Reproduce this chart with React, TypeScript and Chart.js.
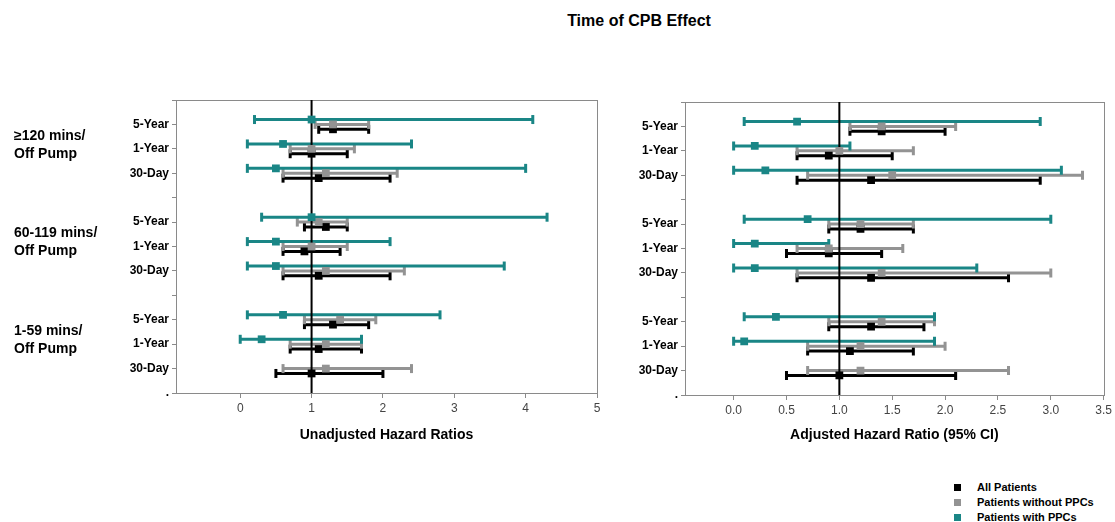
import React, { useEffect, useRef } from "react";
import { Chart, registerables } from "chart.js";

Chart.register(...registerables);

const FONT = "'Liberation Sans', Arial, Helvetica, sans-serif";

// y position (value) -> tick label, bottom (0) to top (12)
const ROW_LABELS = [".", "30-Day", "1-Year", "5-Year", "", "30-Day", "1-Year", "5-Year", "", "30-Day", "1-Year", "5-Year", ""];
const Y_MIN = 0;
const Y_MAX = 12;
// row order of data: >=120 (5Y,1Y,30D), 60-119 (5Y,1Y,30D), 1-59 (5Y,1Y,30D)
const ROW_Y = [11, 10, 9, 7, 6, 5, 3, 2, 1];
const GROUP_LINES = [["≥120 mins/", "Off Pump"], ["60-119 mins/", "Off Pump"], ["1-59 mins/", "Off Pump"]];
const GROUP_CENTER = [10, 6, 2];

const SERIES_NAMES = ["All Patients", "Patients without PPCs", "Patients with PPCs"];
const SERIES_COLORS = ["#000000", "#939393", "#1a8686"];
const SERIES_DY = [-0.2, 0, 0.2];

const REF_VALUE = 1;

// Unadjusted hazard ratios
const UNADJ_ALL_EST = [1.3, 1.0, 1.1, 1.2, 0.9, 1.1, 1.3, 1.1, 1.0];
const UNADJ_ALL_LO = [1.1, 0.7, 0.6, 0.9, 0.6, 0.6, 0.9, 0.7, 0.5];
const UNADJ_ALL_HI = [1.8, 1.5, 2.1, 1.5, 1.4, 2.1, 1.8, 1.7, 2.0];
const UNADJ_NO_EST = [1.3, 1.0, 1.2, 1.1, 1.0, 1.2, 1.4, 1.2, 1.2];
const UNADJ_NO_LO = [1.05, 0.7, 0.6, 0.8, 0.6, 0.6, 0.9, 0.7, 0.6];
const UNADJ_NO_HI = [1.8, 1.6, 2.2, 1.5, 1.5, 2.3, 1.9, 1.7, 2.4];
const UNADJ_PPC_EST = [1.0, 0.6, 0.5, 1.0, 0.5, 0.5, 0.6, 0.3, null];
const UNADJ_PPC_LO = [0.2, 0.1, 0.1, 0.3, 0.1, 0.1, 0.1, 0.0, null];
const UNADJ_PPC_HI = [4.1, 2.4, 4.0, 4.3, 2.1, 3.7, 2.8, 1.7, null];

// Adjusted hazard ratios
const ADJ_ALL_EST = [1.4, 0.9, 1.3, 1.2, 0.9, 1.3, 1.3, 1.1, 1.0];
const ADJ_ALL_LO = [1.1, 0.6, 0.6, 0.9, 0.5, 0.6, 0.9, 0.7, 0.5];
const ADJ_ALL_HI = [2.0, 1.5, 2.9, 1.7, 1.4, 2.6, 1.8, 1.7, 2.1];
const ADJ_NO_EST = [1.4, 1.0, 1.5, 1.2, 0.9, 1.4, 1.4, 1.2, 1.2];
const ADJ_NO_LO = [1.1, 0.6, 0.7, 0.9, 0.6, 0.6, 0.9, 0.7, 0.7];
const ADJ_NO_HI = [2.1, 1.7, 3.3, 1.7, 1.6, 3.0, 1.9, 2.0, 2.6];
const ADJ_PPC_EST = [0.6, 0.2, 0.3, 0.7, 0.2, 0.2, 0.4, 0.1, null];
const ADJ_PPC_LO = [0.1, 0.0, 0.0, 0.1, 0.0, 0.0, 0.1, 0.0, null];
const ADJ_PPC_HI = [2.9, 1.1, 3.1, 3.0, 0.9, 2.3, 1.9, 1.9, null];

const UNADJ_X_TICKS = [0, 1, 2, 3, 4, 5];
const ADJ_X_TICKS = [0, 0.5, 1, 1.5, 2, 2.5, 3, 3.5];

type Arr = (number | null)[];

function buildDatasets(series: { est: Arr; lo: Arr; hi: Arr }[]) {
  const ds: any[] = [];
  series.forEach((s, si) => {
    const color = SERIES_COLORS[si];
    const ci: any[] = [];
    const pts: any[] = [];
    ROW_Y.forEach((yv, i) => {
      const y = yv + SERIES_DY[si];
      if (s.lo[i] != null && s.hi[i] != null) {
        ci.push({ x: s.lo[i], y });
        ci.push({ x: s.hi[i], y });
        ci.push({ x: s.hi[i], y: null });
      }
      if (s.est[i] != null) pts.push({ x: s.est[i], y });
    });
    ds.push({
      label: SERIES_NAMES[si] + " CI",
      data: ci,
      showLine: true,
      spanGaps: false,
      borderColor: color,
      borderWidth: 3,
      pointStyle: "line",
      rotation: 90,
      pointRadius: 4.5,
      pointBorderWidth: 3,
      pointBorderColor: color,
      pointHoverRadius: 4.5,
      order: 20 - si,
    });
    ds.push({
      label: SERIES_NAMES[si],
      data: pts,
      showLine: false,
      pointStyle: "rect",
      pointRadius: 5.5,
      pointHoverRadius: 5.5,
      pointBorderWidth: 0,
      backgroundColor: color,
      pointBackgroundColor: color,
      borderColor: color,
      order: 5 - si,
    });
  });
  ds.push({
    label: "ref",
    data: [
      { x: REF_VALUE, y: Y_MIN },
      { x: REF_VALUE, y: Y_MAX },
    ],
    showLine: true,
    borderColor: "#000",
    borderWidth: 2,
    pointRadius: 0,
    pointHoverRadius: 0,
    order: 10,
  });
  return ds;
}

const framePlugin = {
  id: "frame",
  beforeDatasetsDraw(chart: any) {
    const { ctx, chartArea: a } = chart;
    ctx.save();
    ctx.strokeStyle = "#8a8a8a";
    ctx.lineWidth = 1;
    ctx.strokeRect(Math.round(a.left) + 0.5, Math.round(a.top) + 0.5, Math.round(a.right - a.left), Math.round(a.bottom - a.top));
    ctx.restore();
  },
};

const groupLabelPlugin = {
  id: "groupLabels",
  afterDraw(chart: any) {
    const { ctx } = chart;
    const ys = chart.scales.y;
    ctx.save();
    ctx.font = `bold 14px ${FONT}`;
    ctx.fillStyle = "#000";
    ctx.textAlign = "left";
    ctx.textBaseline = "middle";
    GROUP_LINES.forEach((lines, g) => {
      const c = ys.getPixelForValue(GROUP_CENTER[g]) - 4;
      ctx.fillText(lines[0], 14, c - 9);
      ctx.fillText(lines[1], 14, c + 9);
    });
    ctx.restore();
  },
};

function makeOptions(p: {
  xMin: number;
  xMax: number;
  xTicks: number[];
  fmt: (v: number) => string;
  title: string;
  yWidth: number;
  padTop: number;
  padRight: number;
  xHeight: number;
}) {
  return {
    animation: false,
    responsive: false,
    maintainAspectRatio: false,
    layout: { padding: { top: p.padTop, right: p.padRight, left: 0, bottom: 0 } },
    plugins: { legend: { display: false }, tooltip: { enabled: false }, title: { display: false } },
    events: [],
    scales: {
      x: {
        type: "linear",
        min: p.xMin,
        max: p.xMax,
        afterBuildTicks: (s: any) => {
          s.ticks = p.xTicks.map((v) => ({ value: v }));
        },
        afterFit: (s: any) => {
          s.height = p.xHeight;
        },
        grid: { drawOnChartArea: false, drawTicks: true, tickLength: 5, color: "#8a8a8a", lineWidth: 1 },
        border: { display: true, color: "#8a8a8a", width: 1 },
        ticks: {
          color: "#444",
          font: { family: FONT, size: 12 },
          padding: 3,
          maxRotation: 0,
          callback: (v: any) => p.fmt(Number(v)),
        },
        title: {
          display: true,
          text: p.title,
          color: "#000",
          font: { family: FONT, size: 14, weight: "bold" },
          padding: { top: 4, bottom: 4 },
        },
      },
      y: {
        type: "linear",
        min: Y_MIN,
        max: Y_MAX,
        afterBuildTicks: (s: any) => {
          s.ticks = ROW_LABELS.map((_, i) => ({ value: i }));
        },
        afterFit: (s: any) => {
          s.width = p.yWidth;
        },
        grid: { drawOnChartArea: false, drawTicks: true, tickLength: 4, color: "#8a8a8a", lineWidth: 1 },
        border: { display: true, color: "#8a8a8a", width: 1 },
        ticks: {
          color: "#000",
          font: { family: FONT, size: 12, weight: "bold" },
          padding: 3,
          callback: (v: any) => ROW_LABELS[Math.round(Number(v))] ?? "",
        },
      },
    },
  };
}

function ForestChart(props: {
  left: number;
  width: number;
  height: number;
  series: { est: Arr; lo: Arr; hi: Arr }[];
  opts: any;
  plugins: any[];
}) {
  const ref = useRef<HTMLCanvasElement | null>(null);
  useEffect(() => {
    if (!ref.current) return;
    const chart = new Chart(ref.current, {
      type: "scatter",
      data: { datasets: buildDatasets(props.series) },
      options: props.opts,
      plugins: props.plugins,
    } as any);
    return () => chart.destroy();
  }, []);
  return (
    <canvas
      ref={ref}
      width={props.width}
      height={props.height}
      style={{ position: "absolute", left: props.left, top: 0, width: props.width, height: props.height }}
    />
  );
}

export default function App() {
  const unadj = [
    { est: UNADJ_ALL_EST, lo: UNADJ_ALL_LO, hi: UNADJ_ALL_HI },
    { est: UNADJ_NO_EST, lo: UNADJ_NO_LO, hi: UNADJ_NO_HI },
    { est: UNADJ_PPC_EST, lo: UNADJ_PPC_LO, hi: UNADJ_PPC_HI },
  ];
  const adj = [
    { est: ADJ_ALL_EST, lo: ADJ_ALL_LO, hi: ADJ_ALL_HI },
    { est: ADJ_NO_EST, lo: ADJ_NO_LO, hi: ADJ_NO_HI },
    { est: ADJ_PPC_EST, lo: ADJ_PPC_LO, hi: ADJ_PPC_HI },
  ];
  const leftOpts = makeOptions({
    xMin: -0.9,
    xMax: 5,
    xTicks: UNADJ_X_TICKS,
    fmt: (v) => String(v),
    title: "Unadjusted Hazard Ratios",
    yWidth: 176,
    padTop: 100,
    padRight: 23,
    xHeight: 55,
  });
  const rightOpts = makeOptions({
    xMin: -0.46,
    xMax: 3.5,
    xTicks: ADJ_X_TICKS,
    fmt: (v) => v.toFixed(1),
    title: "Adjusted Hazard Ratio (95% CI)",
    yWidth: 85,
    padTop: 102,
    padRight: 11,
    xHeight: 53,
  });
  const legendRows = [487, 502, 517];
  return (
    <div style={{ position: "fixed", left: 0, top: 0, width: 1115, height: 522, background: "#fff", overflow: "hidden", fontFamily: FONT }}>
      <div
        style={{
          position: "absolute",
          left: 639,
          top: 21,
          transform: "translate(-50%, -50%)",
          fontWeight: "bold",
          fontSize: 16,
          whiteSpace: "nowrap",
          color: "#000",
        }}
      >
        Time of CPB Effect
      </div>
      <ForestChart left={0} width={620} height={448} series={unadj} opts={leftOpts} plugins={[framePlugin, groupLabelPlugin]} />
      <ForestChart left={600} width={515} height={448} series={adj} opts={rightOpts} plugins={[framePlugin]} />
      {SERIES_NAMES.map((name, i) => (
        <div key={name}>
          <div
            style={{
              position: "absolute",
              left: 954,
              top: legendRows[i] - 3.5,
              width: 7,
              height: 7,
              background: SERIES_COLORS[i],
            }}
          />
          <div
            style={{
              position: "absolute",
              left: 977,
              top: legendRows[i],
              transform: "translateY(-50%)",
              fontWeight: "bold",
              fontSize: 11,
              whiteSpace: "nowrap",
              color: "#000",
            }}
          >
            {name}
          </div>
        </div>
      ))}
    </div>
  );
}
